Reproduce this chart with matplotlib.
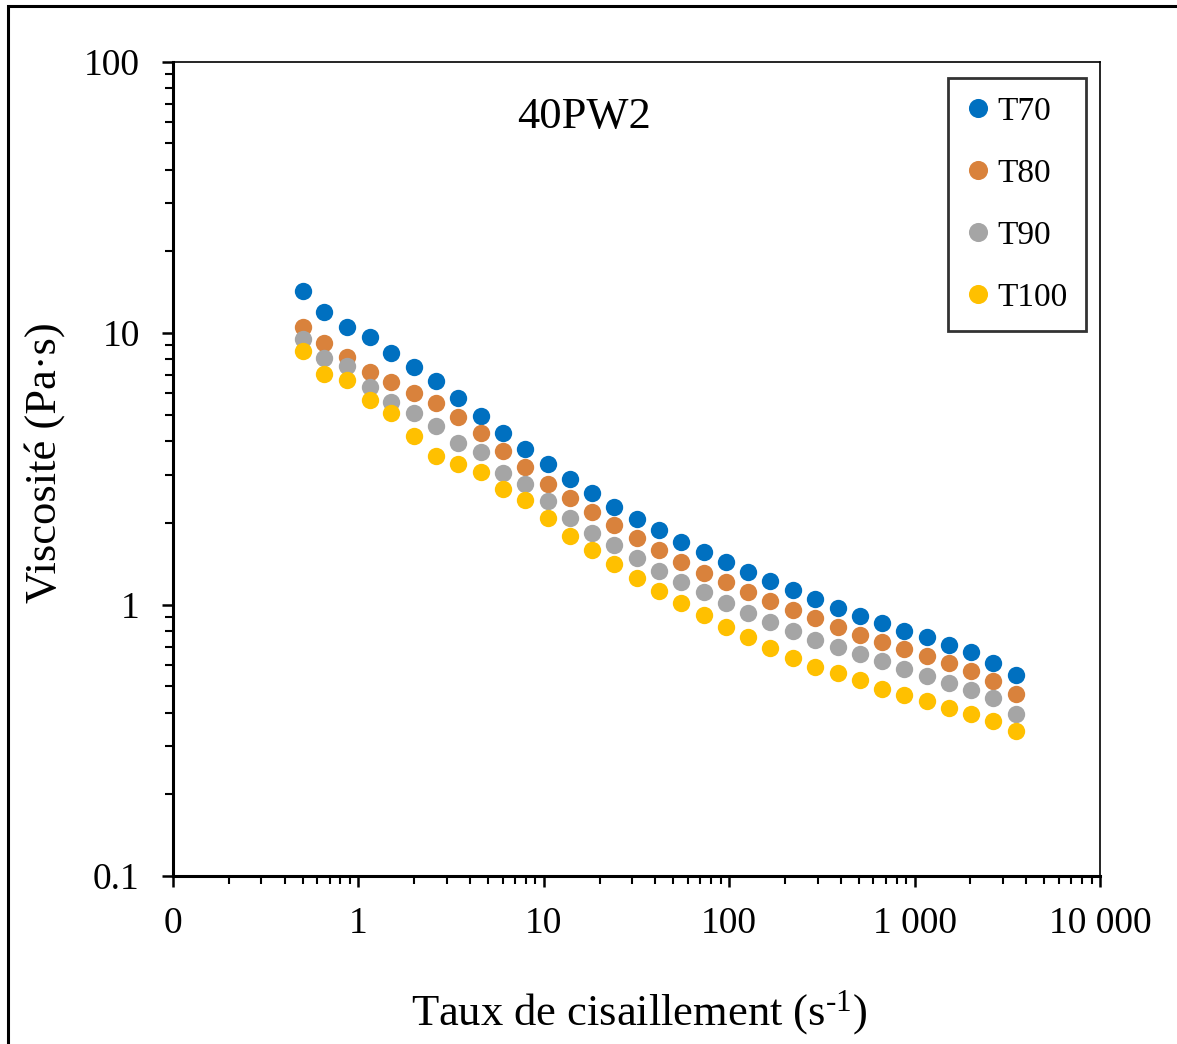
import matplotlib
matplotlib.use("Agg")
import matplotlib.pyplot as plt
from matplotlib.patches import Rectangle
from matplotlib.ticker import FixedLocator, NullFormatter

plt.rcParams['font.family'] = ['Liberation Serif', 'DejaVu Serif']
plt.rcParams['mathtext.default'] = 'regular'

# shear rate (1/s)
shear = [0.5, 0.655, 0.868, 1.15, 1.5, 1.99, 2.62, 3.46, 4.57, 6.03, 7.92,
         10.5, 13.8, 18.2, 24.0, 31.7, 41.8, 55.2, 72.9, 96.1, 127, 167,
         221, 291, 385, 508, 667, 880, 1162, 1533, 2022, 2658, 3524]

t70 = [14.3, 11.9, 10.55, 9.69, 8.46, 7.51, 6.66, 5.78, 4.95, 4.28, 3.74,
       3.28, 2.89, 2.57, 2.29, 2.06, 1.88, 1.70, 1.565, 1.434, 1.32, 1.22,
       1.13, 1.05, 0.973, 0.907, 0.853, 0.801, 0.757, 0.711, 0.667, 0.610, 0.550]
t80 = [10.5, 9.21, 8.14, 7.20, 6.58, 6.03, 5.51, 4.92, 4.27, 3.69, 3.20,
       2.78, 2.46, 2.20, 1.96, 1.76, 1.59, 1.44, 1.31, 1.21, 1.11, 1.03,
       0.954, 0.890, 0.828, 0.774, 0.727, 0.686, 0.648, 0.610, 0.569, 0.523, 0.468]
t90 = [9.50, 8.11, 7.58, 6.33, 5.58, 5.06, 4.56, 3.94, 3.64, 3.05, 2.78,
       2.41, 2.09, 1.84, 1.65, 1.48, 1.33, 1.21, 1.11, 1.01, 0.930, 0.860,
       0.797, 0.742, 0.696, 0.659, 0.619, 0.579, 0.547, 0.515, 0.484, 0.451, 0.395]
t100 = [8.61, 7.06, 6.71, 5.65, 5.09, 4.18, 3.53, 3.28, 3.08, 2.67, 2.43,
        2.08, 1.79, 1.59, 1.41, 1.255, 1.12, 1.01, 0.915, 0.828, 0.756, 0.690,
        0.634, 0.590, 0.558, 0.527, 0.490, 0.463, 0.441, 0.417, 0.395, 0.371, 0.342]

series = [("T70", t70, "#0070C0"),
          ("T80", t80, "#D9823C"),
          ("T90", t90, "#A5A5A5"),
          ("T100", t100, "#FFC000")]

x_ticks = [0.1, 1, 10, 100, 1000, 10000]
x_labels = ["0", "1", "10", "100", "1 000", "10 000"]
y_ticks = [0.1, 1, 10, 100]
y_labels = ["0.1", "1", "10", "100"]

fig = plt.figure(figsize=(11.77, 10.44), dpi=100)
ax = fig.add_axes([173/1177, 1 - 876/1044, 927/1177, 814.5/1044])

for name, vals, col in series:
    ax.plot(shear, vals, linestyle="none", marker="o", ms=12.5, color=col,
            markeredgewidth=0, label=name)

ax.set_xscale("log")
ax.set_yscale("log")
ax.set_xlim(0.1, 10000)
ax.set_ylim(0.1, 100)

ax.xaxis.set_major_locator(FixedLocator(x_ticks))
ax.set_xticklabels(x_labels)
ax.yaxis.set_major_locator(FixedLocator(y_ticks))
ax.set_yticklabels(y_labels)
ax.xaxis.set_minor_formatter(NullFormatter())
ax.yaxis.set_minor_formatter(NullFormatter())

ax.tick_params(which="major", direction="out", length=8, width=1.8,
               labelsize=27, top=False, right=False)
ax.tick_params(axis="x", which="major", pad=14)
ax.tick_params(axis="y", which="major", pad=16)
ax.tick_params(which="minor", direction="out", length=6, width=1.5,
               top=False, right=False)

for s in ["left", "bottom"]:
    ax.spines[s].set_linewidth(2.2)
for s in ["top", "right"]:
    ax.spines[s].set_linewidth(1.2)

ax.text(0.443, 0.932, "40PW2", transform=ax.transAxes, fontsize=32,
        ha="center", va="center")

leg = ax.legend(loc="upper right", bbox_to_anchor=(0.985, 0.98),
                borderaxespad=0, fontsize=24, frameon=True, fancybox=False,
                labelspacing=0.95, handletextpad=0.2, handlelength=0.75,
                borderpad=0.55, markerscale=1.1)
leg.get_frame().set_edgecolor("black")
leg.get_frame().set_linewidth(2.0)

fig.text(45/1177, 1 - 463/1044, "Viscosité (Pa·s)", rotation=90,
         fontsize=32, ha="center", va="center")
fig.text(639/1177, 1 - 1013/1044, "Taux de cisaillement (s$^{\u20101}$)",
         fontsize=32, ha="center", va="center")

fig.patches.append(Rectangle((7.5/1177, -0.1), 1.2, 1 - 6/1044 + 0.1,
                             transform=fig.transFigure, fill=False,
                             edgecolor="black", linewidth=2.2))

fig.savefig("out.png", dpi=100)
